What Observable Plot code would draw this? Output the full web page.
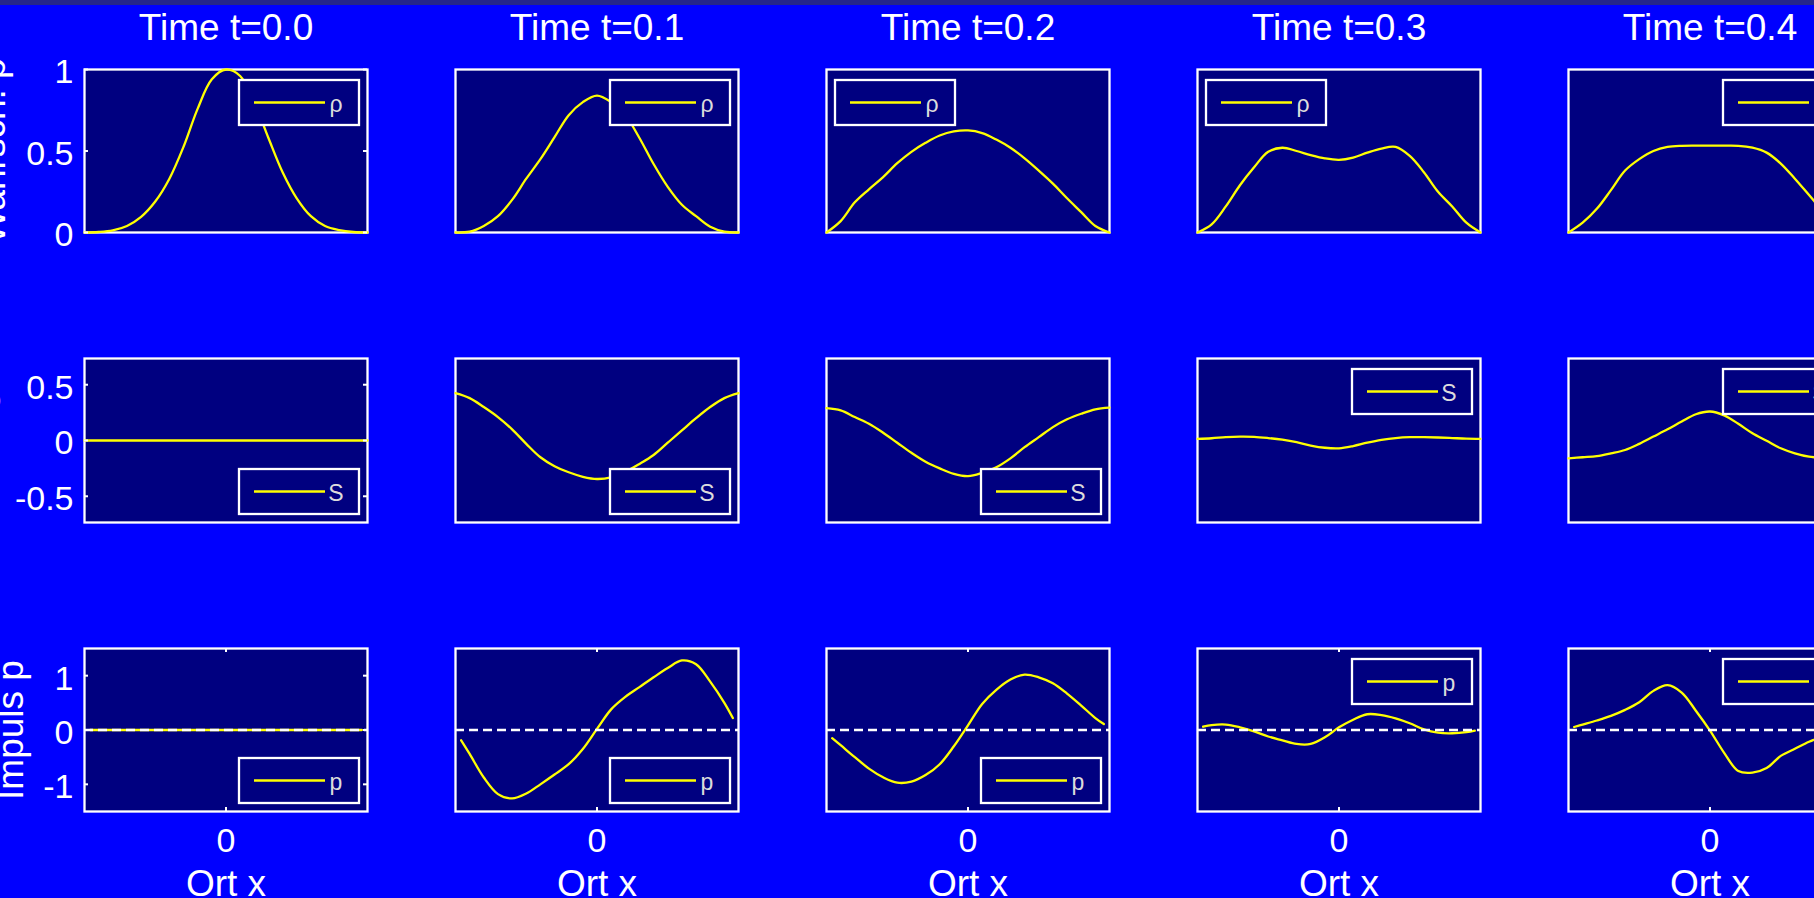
<!DOCTYPE html>
<html>
<head>
<meta charset="utf-8">
<script src="https://cdn.jsdelivr.net/npm/d3@7"></script>
<script src="https://cdn.jsdelivr.net/npm/@observablehq/plot@0.6"></script>
<style>
html, body { margin: 0; padding: 0; background: #0000ff; overflow: hidden; }
#fig { position: relative; width: 1814px; height: 898px; overflow: hidden; background: #0000ff; }
#band { position: absolute; left: 0; top: 0; width: 1814px; height: 5px; background: #26268a; z-index: 5; }
#fig svg { position: absolute; }
</style>
</head>
<body>
<div id="fig"><div id="band"></div></div>
<script>
// ---------------- data ----------------
const times = ["0.0", "0.1", "0.2", "0.3", "0.4"];
const rowYLabels = ["Wahrsch. ρ", "Wirkung S", "Impuls p"];
const legendLabels = ["ρ", "S", "p"];
const xTicks = [0];
const yTicksRho = [0, 0.5, 1];
const yTicksS = [-0.5, 0, 0.5];
const yTicksP = [-1, 0, 1];

const xGrid = [-1, -0.9, -0.8, -0.7, -0.6, -0.5, -0.4, -0.3, -0.2, -0.1, 0, 0.1, 0.2, 0.3, 0.4, 0.5, 0.6, 0.7, 0.8, 0.9, 1];
const xGridP = [-0.96, -0.9, -0.8, -0.7, -0.6, -0.5, -0.4, -0.3, -0.2, -0.1, 0, 0.1, 0.2, 0.3, 0.4, 0.5, 0.6, 0.7, 0.8, 0.9, 0.96];

const rhoT0 = [0, 0.003, 0.013, 0.04, 0.096, 0.19, 0.33, 0.526, 0.76, 0.94, 1.0, 0.96, 0.80, 0.58, 0.37, 0.21, 0.10, 0.04, 0.015, 0.003, 0];
const rhoT1 = [0, 0.005, 0.04, 0.10, 0.20, 0.33, 0.45, 0.585, 0.72, 0.80, 0.84, 0.80, 0.72, 0.58, 0.42, 0.28, 0.17, 0.10, 0.035, 0.005, 0];
const rhoT2 = [0, 0.07, 0.185, 0.265, 0.34, 0.425, 0.495, 0.55, 0.595, 0.62, 0.626, 0.61, 0.57, 0.52, 0.455, 0.38, 0.30, 0.21, 0.125, 0.04, 0];
const rhoT3 = [0, 0.05, 0.16, 0.29, 0.40, 0.495, 0.52, 0.50, 0.475, 0.455, 0.446, 0.46, 0.49, 0.515, 0.525, 0.47, 0.37, 0.25, 0.16, 0.06, 0];
const rhoT4 = [0, 0.06, 0.145, 0.26, 0.38, 0.45, 0.50, 0.525, 0.532, 0.533, 0.533, 0.533, 0.532, 0.52, 0.49, 0.423, 0.33, 0.23, 0.13, 0.05, 0];

const sT0 = [0, 0, 0, 0, 0, 0, 0, 0, 0, 0, 0, 0, 0, 0, 0, 0, 0, 0, 0, 0, 0];
const sT1 = [0.425, 0.38, 0.30, 0.21, 0.10, -0.03, -0.15, -0.23, -0.285, -0.325, -0.345, -0.33, -0.28, -0.21, -0.13, -0.02, 0.09, 0.20, 0.30, 0.38, 0.425];
const sT2 = [0.29, 0.27, 0.21, 0.15, 0.07, -0.02, -0.11, -0.19, -0.25, -0.30, -0.32, -0.29, -0.24, -0.16, -0.06, 0.03, 0.12, 0.19, 0.24, 0.28, 0.295];
const sT3 = [0.015, 0.02, 0.03, 0.035, 0.033, 0.022, 0.007, -0.015, -0.045, -0.065, -0.07, -0.05, -0.02, 0.005, 0.022, 0.03, 0.03, 0.027, 0.022, 0.017, 0.015];
const sT4 = [-0.16, -0.15, -0.14, -0.115, -0.085, -0.03, 0.035, 0.10, 0.17, 0.235, 0.26, 0.225, 0.15, 0.065, -0.002, -0.07, -0.115, -0.145, -0.155, -0.16, -0.16];

const pT0 = [0, 0, 0, 0, 0, 0, 0, 0, 0, 0, 0, 0, 0, 0, 0, 0, 0, 0, 0, 0, 0];
const pT1 = [-0.19, -0.44, -0.875, -1.18, -1.26, -1.17, -1.0, -0.82, -0.63, -0.35, 0.02, 0.38, 0.61, 0.79, 0.97, 1.14, 1.28, 1.21, 0.89, 0.50, 0.22];
const pT2 = [-0.15, -0.28, -0.50, -0.71, -0.87, -0.97, -0.95, -0.83, -0.63, -0.30, 0.086, 0.48, 0.74, 0.93, 1.02, 0.97, 0.86, 0.67, 0.45, 0.22, 0.11];
const pT3 = [0.06, 0.09, 0.10, 0.05, -0.025, -0.12, -0.19, -0.257, -0.257, -0.135, 0.05, 0.19, 0.29, 0.275, 0.215, 0.125, 0.01, -0.05, -0.06, -0.04, -0.012];
const pT4 = [0.055, 0.10, 0.175, 0.26, 0.37, 0.51, 0.72, 0.826, 0.69, 0.355, -0.01, -0.42, -0.755, -0.785, -0.70, -0.477, -0.345, -0.215, -0.12, -0.06, -0.04];

// ---------------- layout & style ----------------
const NAVY = "#000080";
const YELLOW = "#ffff00";
const FONT = "'Liberation Sans', Arial, Helvetica, sans-serif";
const LEGEND_FONT = "'Liberation Sans Narrow', 'Liberation Sans', Arial, sans-serif";
const FRAME_W = 283, ML = 84, MR = 4, COL_STEP = 371;
const rows = [
  {series: [rhoT0, rhoT1, rhoT2, rhoT3, rhoT4], xs: xGrid, ticks: yTicksRho, domain: [0, 1], top: 0, mt: 69, fh: 163, mb: 58, ylabelDx: -91},
  {series: [sT0, sT1, sT2, sT3, sT4], xs: xGrid, ticks: yTicksS, domain: [-0.735, 0.735], top: 290, mt: 68, fh: 164, mb: 58, ylabelDx: -104},
  {series: [pT0, pT1, pT2, pT3, pT4], xs: xGridP, ticks: yTicksP, domain: [-1.5, 1.5], top: 580, mt: 68, fh: 163, mb: 87, ylabelDx: -73}
];
const legendPlaces = [
  ["NE", "NE", "NW", "NW", "NE"],
  ["SE", "SE", "SE", "NE", "NE"],
  ["SE", "SE", "SE", "NE", "NE"]
];

function legendMark(label, place) {
  return (index, scales, values, dims) => {
    const fl = dims.marginLeft, fr = dims.width - dims.marginRight;
    const ft = dims.marginTop, fb = dims.height - dims.marginBottom;
    const bw = 120, bh = 45;
    const bx = place.endsWith("E") ? fr - 8 - bw : fl + 9;
    const by = place.startsWith("N") ? ft + 11 : fb - 8 - bh;
    const cy = by + bh / 2;
    const g = d3.create("svg:g");
    g.append("rect").attr("x", bx).attr("y", by).attr("width", bw).attr("height", bh)
      .attr("fill", NAVY).attr("stroke", "white").attr("stroke-width", 2.3);
    g.append("line").attr("x1", bx + 15).attr("x2", bx + 86).attr("y1", cy).attr("y2", cy)
      .attr("stroke", YELLOW).attr("stroke-width", 2.3);
    g.append("text").attr("x", bx + 97).attr("y", cy + 9).attr("fill", "#dcdcdc")
      .attr("font-family", LEGEND_FONT).attr("font-size", 23).text(label);
    return g.node();
  };
}

const fig = document.getElementById("fig");

rows.forEach((R, r) => {
  R.series.forEach((vals, c) => {
    const data = R.xs.map((x, i) => ({x, y: vals[i]}));
    const W = ML + FRAME_W + MR;
    const H = R.mt + R.fh + R.mb;
    const marks = [
      Plot.frame({fill: NAVY}),
      Plot.frame({stroke: "white", strokeWidth: 2.3}),
      Plot.line(data, {x: "x", y: "y", stroke: YELLOW, strokeWidth: 2.3, curve: "catmull-rom"})
    ];
    if (r === 2) {
      marks.push(Plot.ruleY([0], {stroke: "white", strokeWidth: 2.5, strokeDasharray: "9,5"}));
      marks.push(Plot.tickX(xTicks, {x: d => d, stroke: "white", strokeWidth: 2, insetBottom: R.fh - 4}));
      marks.push(Plot.tickX(xTicks, {x: d => d, stroke: "white", strokeWidth: 2, insetTop: R.fh - 4}));
      marks.push(Plot.axisX({ticks: xTicks, anchor: "bottom", tickSize: 0, tickPadding: 16, fontSize: 34, tickFormat: d => String(d), label: null}));
      marks.push(Plot.text(["Ort x"], {frameAnchor: "bottom", textAnchor: "middle", dy: 72.5, fontSize: 37, lineAnchor: "middle", fill: "white"}));
    }
    if (c === 0) {
      marks.push(Plot.tickY(R.ticks, {y: d => d, stroke: "white", strokeWidth: 2, insetRight: FRAME_W - 4}));
      marks.push(Plot.tickY(R.ticks, {y: d => d, stroke: "white", strokeWidth: 2, insetLeft: FRAME_W - 4}));
      marks.push(Plot.axisY({ticks: R.ticks, anchor: "left", tickSize: 0, tickPadding: 11, dy: 3, fontSize: 34, tickFormat: d => String(d), label: null}));
      marks.push(Plot.text([rowYLabels[r]], {frameAnchor: "left", textAnchor: "middle", rotate: -90, dx: R.ylabelDx, fontSize: 37, lineAnchor: "middle", fill: "white"}));
    }
    if (r === 0) {
      marks.push(Plot.text([`Time t=${times[c]}`], {frameAnchor: "top", textAnchor: "middle", dy: -41, fontSize: 37, lineAnchor: "middle", fill: "white"}));
    }
    marks.push(legendMark(legendLabels[r], legendPlaces[r][c]));

    const svg = Plot.plot({
      width: W, height: H,
      marginLeft: ML, marginRight: MR, marginTop: R.mt, marginBottom: R.mb,
      x: {domain: [-1, 1], axis: null},
      y: {domain: R.domain, axis: null},
      style: {background: "transparent", color: "white", fontFamily: FONT, overflow: "hidden", maxWidth: "none"},
      marks
    });
    svg.style.left = (COL_STEP * c) + "px";
    svg.style.top = R.top + "px";
    fig.appendChild(svg);
  });
});
</script>
</body>
</html>
